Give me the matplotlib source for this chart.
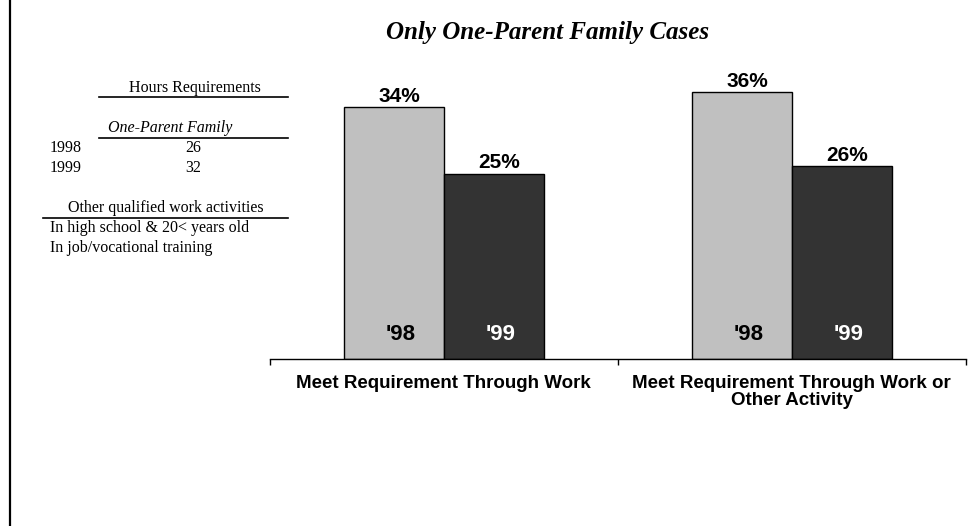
import matplotlib
matplotlib.use("Agg")
import matplotlib.pyplot as plt
from matplotlib.lines import Line2D

# chart data
categories = ["Meet Requirement Through Work",
              "Meet Requirement Through Work or\nOther Activity"]
years = ["'98", "'99"]
pct_98 = [34, 36]
pct_99 = [25, 26]

# side table text
hours_years = ["1998", "1999"]
hours_one_parent = ["26", "32"]
other_activities = ["In high school & 20< years old",
                    "In job/vocational training"]

W, H = 977, 526
fig = plt.figure(figsize=(W / 100, H / 100), dpi=100)


def fx(px):
    return px / W


def fy(py):
    return 1 - py / H


serif = "Liberation Serif"
sans = "Liberation Sans"

# plot area
ax = fig.add_axes([fx(269.5), fy(358.5), fx(966) - fx(269.5), 40 * 7.39 / H])
bw = 0.287
x = list(range(len(categories)))
b98 = ax.bar([i - bw / 2 for i in x], pct_98, width=bw, color="#c0c0c0",
             edgecolor="black", linewidth=1)
b99 = ax.bar([i + bw / 2 for i in x], pct_99, width=bw, color="#333333",
             edgecolor="black", linewidth=1)
ax.set_xlim(-0.5, 1.5)
ax.set_ylim(0, 40)

for bars, vals, yr, tc in [(b98, pct_98, years[0], "black"),
                           (b99, pct_99, years[1], "white")]:
    for b, v in zip(bars, vals):
        cx = b.get_x() + b.get_width() / 2
        ax.annotate(f"{v}%", (cx, v), xytext=(4, 8), textcoords="offset points",
                    ha="center", va="center", fontsize=15, fontweight="bold",
                    family=sans)
        ax.annotate(yr, (cx, 0), xytext=(5, 17), textcoords="offset points",
                    ha="center", va="center", fontsize=16, fontweight="bold",
                    family=sans, color=tc)

for s in ["top", "right", "left"]:
    ax.spines[s].set_visible(False)
ax.spines["bottom"].set_linewidth(1)
ax.set_yticks([])
ax.set_xticks(x)
ax.set_xticklabels(categories, fontsize=13.5, fontweight="bold", family=sans,
                   linespacing=1.0, va="top")
ax.tick_params(axis="x", which="major", length=0, pad=12)
ax.set_xticks([-0.5, 0.5, 1.5], minor=True)
ax.tick_params(axis="x", which="minor", length=4, width=1, direction="out")

# title
fig.text(fx(709), fy(33), "Only One-Parent Family Cases", ha="right",
         va="center", fontsize=18, fontweight="bold", style="italic",
         family=serif)

# left border
fig.add_artist(Line2D([fx(9.5), fx(9.5)], [0, 1], color="black", lw=1.6))

# side table
fs = 11.5
fig.text(fx(195), fy(88), "Hours Requirements", ha="center", va="center",
         fontsize=fs, family=serif)
fig.add_artist(Line2D([fx(99), fx(288)], [fy(97), fy(97)], color="black", lw=1.2))
fig.text(fx(170), fy(128), "One-Parent Family", ha="center", va="center",
         fontsize=fs, family=serif, style="italic")
fig.add_artist(Line2D([fx(99), fx(288)], [fy(138), fy(138)], color="black", lw=1.2))
for i, (yr, hv) in enumerate(zip(hours_years, hours_one_parent)):
    yy = 148 + 20 * i
    fig.text(fx(50), fy(yy), yr, ha="left", va="center", fontsize=fs, family=serif)
    fig.text(fx(193), fy(yy), hv, ha="center", va="center", fontsize=fs, family=serif)
fig.text(fx(166), fy(208), "Other qualified work activities", ha="center",
         va="center", fontsize=fs, family=serif)
fig.add_artist(Line2D([fx(43), fx(288)], [fy(218), fy(218)], color="black", lw=1.2))
for i, t in enumerate(other_activities):
    fig.text(fx(50), fy(228 + 19.5 * i), t, ha="left", va="center",
             fontsize=fs, family=serif)

fig.savefig("out.png", dpi=100)
